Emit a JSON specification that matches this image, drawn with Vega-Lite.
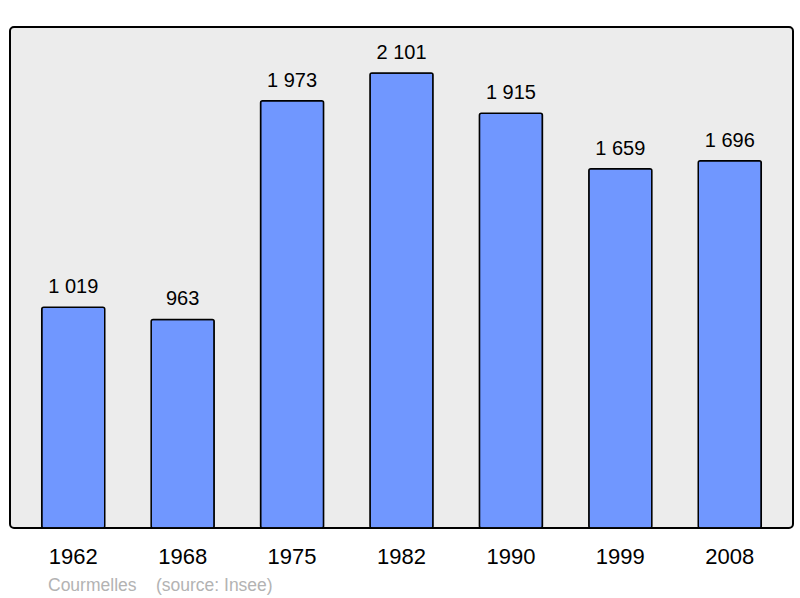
{
  "$schema": "https://vega.github.io/schema/vega-lite/v6.json",
  "width": 783,
  "height": 501,
  "autosize": {"type": "none"},
  "padding": {"left": 10, "top": 27, "right": 7, "bottom": 70},
  "background": "#ffffff",
  "config": {
    "font": "Liberation Sans",
    "view": {"fill": "#ececec", "stroke": "#000000", "strokeWidth": 2, "cornerRadius": 4},
    "locale": {"number": {"decimal": ",", "thousands": "\u00a0", "grouping": [3], "currency": ["", " €"]}}
  },
  "title": {
    "text": "Courmelles\u00a0\u00a0\u00a0\u00a0(source: Insee)",
    "orient": "bottom",
    "anchor": "start",
    "dx": 38,
    "offset": 10,
    "fontSize": 17.5,
    "fontWeight": "normal",
    "color": "#b3b3b3",
    "font": "Liberation Sans"
  },
  "data": {
    "values": [
      {"year": "1962", "pop": 1019},
      {"year": "1968", "pop": 963},
      {"year": "1975", "pop": 1973},
      {"year": "1982", "pop": 2101},
      {"year": "1990", "pop": 1915},
      {"year": "1999", "pop": 1659},
      {"year": "2008", "pop": 1696}
    ]
  },
  "encoding": {
    "x": {
      "field": "year",
      "type": "nominal",
      "sort": null,
      "scale": {"paddingInner": 0.424, "paddingOuter": 0.29},
      "axis": {
        "title": null,
        "labelAngle": 0,
        "labelFontSize": 22,
        "labelColor": "#000000",
        "labelPadding": 18,
        "domain": false,
        "ticks": false,
        "labelFont": "Liberation Sans"
      }
    },
    "y": {
      "field": "pop",
      "type": "quantitative",
      "scale": {"domain": [0, 2313], "nice": false},
      "axis": null
    }
  },
  "layer": [
    {
      "mark": {"type": "bar", "fill": "#7097ff", "stroke": "#000000", "strokeWidth": 1.5, "cornerRadius": 2}
    },
    {
      "mark": {"type": "text", "baseline": "alphabetic", "dy": -14, "fontSize": 20, "color": "#000000", "font": "Liberation Sans"},
      "encoding": {"text": {"field": "pop", "type": "quantitative", "format": ","}}
    }
  ]
}
